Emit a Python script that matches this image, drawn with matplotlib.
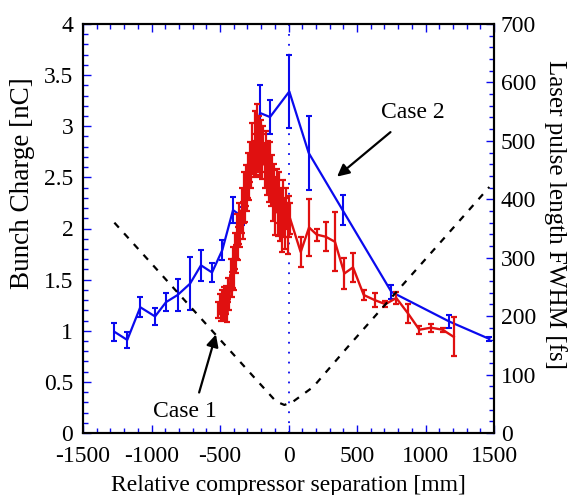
import matplotlib
matplotlib.use("Agg")
import matplotlib.pyplot as plt
from matplotlib.ticker import MultipleLocator, FuncFormatter

plt.rcParams['font.family'] = ['Liberation Serif', 'DejaVu Serif']
plt.rcParams['axes.unicode_minus'] = False

# Case 2 (blue)
blue_x = [-1271, -1177, -1082, -974, -894, -809, -719, -639, -558, -483, -405, -342,
          -208, -135, 6, 147, 395, 751, 1174, 1466]
blue_y = [0.99, 0.91, 1.23, 1.14, 1.28, 1.35, 1.46, 1.64, 1.57, 1.79, 2.18, 2.12,
          3.13, 3.09, 3.34, 2.74, 2.18, 1.38, 1.09, 0.92]
blue_err = [0.09, 0.08, 0.10, 0.08, 0.09, 0.16, 0.26, 0.15, 0.09, 0.10, 0.13, 0.09,
            0.27, 0.17, 0.36, 0.36, 0.15, 0.07, 0.06, 0.02]

# Case 1 (red)
red_x = [-512, -503, -495, -487, -479, -471, -463, -455, -447, -439, -431, -423, -415,
         -407, -399, -391, -383, -375, -367, -359, -351, -343, -335, -327, -319, -311,
         -303, -295, -287, -279, -271, -263, -255, -247, -239, -231, -223, -215, -207,
         -199, -191, -183, -175, -167, -159, -151, -143, -135, -127, -119, -111, -103,
         -95, -87, -79, -71, -63, -55, -47, -39, -31, -23, -15, -7, 1, 11,
         89, 150, 206, 271, 339, 408, 471, 549, 629, 707, 787, 872, 955, 1040, 1125, 1206]
red_y = [1.20, 1.26, 1.17, 1.28, 1.21, 1.33, 1.19, 1.30, 1.16, 1.40, 1.30, 1.55, 1.45,
         1.62, 1.55, 1.78, 1.70, 1.92, 1.85, 2.05, 1.97, 2.18, 2.08, 2.30, 2.22, 2.42,
         2.35, 2.52, 2.45, 2.65, 2.55, 2.78, 2.68, 2.85, 2.72, 2.90, 2.80, 2.88, 2.75,
         2.86, 2.70, 2.82, 2.62, 2.75, 2.58, 2.68, 2.48, 2.60, 2.40, 2.52, 2.32, 2.45,
         2.22, 2.38, 2.15, 2.30, 2.08, 2.22, 2.02, 2.25, 2.10, 2.05, 2.20, 2.00, 2.12, 2.10,
         1.77, 2.01, 1.94, 1.92, 1.87, 1.56, 1.62, 1.35, 1.30, 1.26, 1.32, 1.17, 1.01,
         1.03, 1.01, 0.94]
red_err = [0.08, 0.10, 0.07, 0.12, 0.09, 0.10, 0.08, 0.14, 0.07, 0.12, 0.10, 0.15, 0.12,
           0.20, 0.15, 0.18, 0.14, 0.22, 0.16, 0.20, 0.15, 0.22, 0.18, 0.25, 0.16, 0.20,
           0.18, 0.22, 0.17, 0.20, 0.15, 0.25, 0.18, 0.30, 0.20, 0.32, 0.25, 0.22, 0.25,
           0.20, 0.22, 0.18, 0.22, 0.20, 0.25, 0.18, 0.22, 0.25, 0.18, 0.20, 0.25, 0.18,
           0.28, 0.20, 0.22, 0.25, 0.20, 0.18, 0.25, 0.22, 0.18, 0.25, 0.20, 0.25, 0.20, 0.15,
           0.15, 0.28, 0.06, 0.14, 0.29, 0.15, 0.14, 0.05, 0.07, 0.03, 0.06, 0.09, 0.04,
           0.04, 0.02, 0.19]

# Laser pulse length (dashed, right axis)
laser_x = [-1271, -1000, -750, -500, -250, -91, -30, 35, 181, 424, 790, 1100, 1466]
laser_fs = [360, 290, 225, 160, 95, 54, 48, 54, 79, 145, 242, 324, 421]

BLUE = '#0a0aee'
RED = '#e01010'
FS = 17

fig = plt.figure(figsize=(5.75, 4.95), dpi=100)
ax = fig.add_axes([83/575, 62/495, 411/575, 409/495])
ax2 = ax.twinx()

ax.errorbar(blue_x, blue_y, yerr=blue_err, color=BLUE, lw=1.6, elinewidth=1.5,
            capsize=2.4, capthick=1.5, zorder=3)
ax.errorbar(red_x, red_y, yerr=red_err, color=RED, lw=1.7, elinewidth=1.6,
            capsize=2.4, capthick=1.6, zorder=4)
ax.axvline(0, color=BLUE, lw=1.3, linestyle=(0, (1, 4.5)), zorder=2)

ax2.plot(laser_x, laser_fs, color='black', lw=1.6, linestyle=(0, (3, 3.5)))

ax.set_xlim(-1500, 1500)
ax.set_ylim(0, 4)
ax2.set_ylim(0, 700)

ax.xaxis.set_major_locator(MultipleLocator(500))
ax.xaxis.set_minor_locator(MultipleLocator(100))
ax.yaxis.set_major_locator(MultipleLocator(0.5))
ax.yaxis.set_minor_locator(MultipleLocator(0.1))
ax2.yaxis.set_major_locator(MultipleLocator(100))
ax2.yaxis.set_minor_locator(MultipleLocator(20))
ax.yaxis.set_major_formatter(FuncFormatter(lambda v, p: ('%g' % v)))
ax.xaxis.set_major_formatter(FuncFormatter(lambda v, p: ('%d' % v)))

ax.tick_params(axis='x', which='both', direction='in', top=True, color=BLUE,
               labelsize=FS, pad=9)
ax.tick_params(axis='y', which='both', direction='in', right=False, color=BLUE,
               labelsize=FS, pad=7)
ax2.tick_params(axis='y', which='both', direction='in', color=BLUE, labelsize=FS, pad=5)
for a in (ax, ax2):
    a.tick_params(which='major', length=6, width=1)
    a.tick_params(which='minor', length=3.5, width=1)
    for s in a.spines.values():
        s.set_linewidth(1.5)
        s.set_color('black')

ax.set_xlabel('Relative compressor separation [mm]', fontsize=FS, labelpad=6)
ax.set_ylabel('Bunch Charge [nC]', fontsize=19.5)
ax.yaxis.set_label_coords(-48/411, (433 - 183) / 409)
ax2.set_ylabel('Laser pulse length FWHM [fs]', fontsize=18, rotation=270, va='center')
ax2.yaxis.set_label_coords(1 + 61/411, (433 - 215) / 409)

ax.annotate('', xy=(339, 2.49), xytext=(760, 2.96),
            arrowprops=dict(arrowstyle='-|>', color='black', lw=1.6, mutation_scale=18))
ax.text(909, 3.13, 'Case 2', fontsize=FS, ha='center', va='center')
ax.annotate('', xy=(-524, 0.99), xytext=(-658, 0.37),
            arrowprops=dict(arrowstyle='-|>', color='black', lw=1.6, mutation_scale=18))
ax.text(-755, 0.21, 'Case 1', fontsize=FS, ha='center', va='center')

fig.savefig('out.png', dpi=100)
